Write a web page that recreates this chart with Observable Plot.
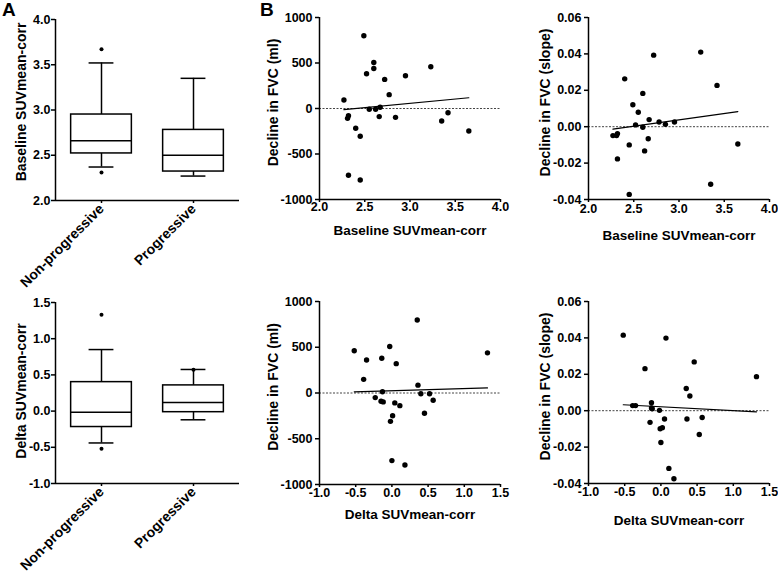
<!DOCTYPE html>
<html><head><meta charset="utf-8">
<script src="https://cdn.jsdelivr.net/npm/d3@7"></script>
<script src="https://cdn.jsdelivr.net/npm/@observablehq/plot@0.6"></script>
<style>
body{margin:0;background:#fff;}
#root{position:relative;width:778px;height:573px;overflow:hidden;font-family:"Liberation Sans",Arial,sans-serif;font-weight:bold;color:#000;}
.panel{position:absolute;}
.letter{position:absolute;font-size:19px;font-weight:bold;line-height:1;}
</style></head><body><div id="root"></div>
<script>
// ---- Panel A: box plot summaries ----
const groups = ["Non-progressive", "Progressive"];
const baseQ1 = [2.52, 2.32];
const baseMedian = [2.66, 2.50];
const baseQ3 = [2.95, 2.78];
const baseLow = [2.37, 2.27];
const baseHigh = [3.52, 3.35];
const baseOutlierGroup = ["Non-progressive", "Non-progressive"];
const baseOutlierValue = [3.67, 2.31];

const deltaQ1 = [-0.22, -0.015];
const deltaMedian = [-0.015, 0.12];
const deltaQ3 = [0.40, 0.355];
const deltaLow = [-0.44, -0.12];
const deltaHigh = [0.85, 0.575];
const deltaOutlierGroup = ["Non-progressive", "Non-progressive", "Progressive"];
const deltaOutlierValue = [1.33, -0.52, 0.57];

// ---- Panel B: scatter data ----
const baselineVsMlX = [2.49,2.60,2.60,2.52,2.72,2.95,3.23,2.77,2.27,2.55,2.62,2.67,2.66,2.84,2.32,2.31,2.40,2.45,3.35,3.42,3.65,2.32,2.45];
const baselineVsMlY = [799,506,440,382,320,360,459,152,93,-9,-9,13,-89,-97,-79,-108,-217,-305,-137,-46,-247,-733,-785];

const baselineVsSlopeX = [2.72,3.24,2.40,3.42,2.60,2.49,2.55,2.67,2.52,2.60,2.78,2.85,2.95,2.27,2.31,2.32,2.45,2.66,2.62,2.32,2.45,3.35,3.65];
const baselineVsSlopeY = [0.0393,0.0410,0.0263,0.0227,0.0183,0.0121,0.0079,0.0039,0.0010,-0.0003,0.0026,0.0013,0.0026,-0.0049,-0.0049,-0.0038,-0.0100,-0.0066,-0.0133,-0.0177,-0.0372,-0.0316,-0.0095];

const deltaVsMlX = [0.35,-0.52,-0.03,-0.35,-0.14,0.06,-0.39,1.32,0.36,-0.13,0.52,0.40,-0.23,-0.15,-0.12,0.57,0.04,0.11,0.01,0.45,-0.02,0.00,0.18];
const deltaVsMlY = [798,461,508,361,380,321,149,439,86,13,-9,-9,-50,-90,-97,-79,-108,-138,-248,-222,-310,-739,-787];

const deltaVsSlopeX = [-0.52,0.07,0.46,-0.22,1.32,0.35,0.40,-0.39,-0.35,-0.13,-0.13,-0.12,-0.02,0.05,0.36,0.57,-0.15,0.02,-0.01,0.53,0.00,0.11,0.18];
const deltaVsSlopeY = [0.0415,0.0399,0.0268,0.0231,0.0187,0.0122,0.0081,0.0028,0.0028,0.0044,0.0015,0.0011,0.0002,-0.0046,-0.0046,-0.0037,-0.0064,-0.0093,-0.0099,-0.0131,-0.0175,-0.0317,-0.0374];

// tick values
const baseTicksBox = [2.0, 2.5, 3.0, 3.5, 4.0];
const deltaTicksBox = [-1.0, -0.5, 0.0, 0.5, 1.0, 1.5];
const mlTicks = [-1000, -500, 0, 500, 1000];
const slopeTicks = [-0.04, -0.02, 0.00, 0.02, 0.04, 0.06];
const baseXTicks = [2.0, 2.5, 3.0, 3.5, 4.0];
const deltaXTicks = [-1.0, -0.5, 0.0, 0.5, 1.0, 1.5];

const root = document.getElementById("root");
const FONT = '"Liberation Sans", Arial, sans-serif';
const baseStyle = {background: "transparent", overflow: "visible", fontFamily: FONT, fontWeight: "bold", fontSize: "12px", color: "#000"};

function place(el, left, top) {
  const d = document.createElement("div");
  d.className = "panel";
  d.style.left = left + "px";
  d.style.top = top + "px";
  d.appendChild(el);
  root.appendChild(d);
}

function boxPanel(o) {
  const rows = groups.map((g, i) => ({g, i: i + 1, q1: o.q1[i], med: o.med[i], q3: o.q3[i], lo: o.lo[i], hi: o.hi[i]}));
  const outs = o.outG.map((g, k) => ({i: groups.indexOf(g) + 1, v: o.outV[k]}));
  const hw = 0.33, cw = 0.135;
  return Plot.plot({
    width: o.width, height: o.height,
    marginLeft: o.ml, marginRight: o.mr, marginTop: o.mt, marginBottom: o.mb,
    style: baseStyle,
    x: {type: "linear", domain: [0.5, 2.5], axis: null},
    y: {domain: o.yDomain, axis: null},
    marks: [
      Plot.axisY({ticks: o.yTicks, tickFormat: d => d.toFixed(1), tickSize: 4, tickPadding: 1, fontSize: 12.5, label: null, strokeWidth: 1.5}),
      Plot.axisX({ticks: [1, 2], tickFormat: i => groups[i - 1], tickRotate: -45, tickSize: 3, tickPadding: 3, fontSize: 14, label: null, strokeWidth: 1.5}),
      Plot.ruleX([0.5], {strokeWidth: 1.5}),
      Plot.ruleY([o.yDomain[0]], {strokeWidth: 1.5}),
      Plot.ruleX(rows, {x: "i", y1: "q3", y2: "hi", strokeWidth: 1.5}),
      Plot.ruleX(rows, {x: "i", y1: "lo", y2: "q1", strokeWidth: 1.5}),
      Plot.ruleY(rows, {y: "hi", x1: d => d.i - cw, x2: d => d.i + cw, strokeWidth: 1.5}),
      Plot.ruleY(rows, {y: "lo", x1: d => d.i - cw, x2: d => d.i + cw, strokeWidth: 1.5}),
      Plot.rect(rows, {x1: d => d.i - hw, x2: d => d.i + hw, y1: "q1", y2: "q3", fill: "white", stroke: "black", strokeWidth: 1.5}),
      Plot.ruleY(rows, {y: "med", x1: d => d.i - hw, x2: d => d.i + hw, strokeWidth: 1.5}),
      Plot.dot(outs, {x: "i", y: "v", r: 2, fill: "black"}),
      Plot.text([o.yLabel], {frameAnchor: "left", rotate: -90, textAnchor: "middle", lineAnchor: "middle", dx: -o.yLabelOffset, dy: o.yLabelDy, fontSize: 14, fontWeight: "bold"})
    ]
  });
}

function scatterPanel(o) {
  const pts = o.xs.map((x, i) => ({x, y: o.ys[i]}));
  return Plot.plot({
    width: o.width, height: o.height,
    marginLeft: o.ml, marginRight: o.mr, marginTop: o.mt, marginBottom: o.mb,
    style: baseStyle,
    x: {domain: o.xDomain, axis: null},
    y: {domain: o.yDomain, axis: null},
    marks: [
      Plot.ruleY([0], {stroke: "#444", strokeWidth: 1, strokeDasharray: "2,1.5"}),
      Plot.axisY({ticks: o.yTicks, tickFormat: o.yFmt, tickSize: 4, tickPadding: 3, fontSize: 12.5, label: null, strokeWidth: 1.5}),
      Plot.axisX({ticks: o.xTicks, tickFormat: d => d.toFixed(1), tickSize: 3, tickPadding: o.xTickPad, fontSize: 12.5, label: null, strokeWidth: 1.5}),
      Plot.ruleX([o.xDomain[0]], {strokeWidth: 1.5}),
      Plot.ruleY([o.yDomain[0]], {strokeWidth: 1.5}),
      Plot.linearRegressionY(pts, {x: "x", y: "y", ci: 0, stroke: "black", strokeWidth: 1.2}),
      Plot.dot(pts, {x: "x", y: "y", r: 2.7, fill: "black"}),
      Plot.text([o.xLabel], {frameAnchor: "bottom", lineAnchor: "middle", dy: o.xLabelOffset, fontSize: 13.5, fontWeight: "bold"}),
      Plot.text([o.yLabel], {frameAnchor: "left", rotate: -90, textAnchor: "middle", lineAnchor: "middle", dx: -o.yLabelOffset, dy: -6, fontSize: 14, fontWeight: "bold"})
    ]
  });
}

// A top
place(boxPanel({width: 250, height: 295, ml: 55, mr: 11, mt: 19, mb: 95,
  q1: baseQ1, med: baseMedian, q3: baseQ3, lo: baseLow, hi: baseHigh,
  outG: baseOutlierGroup, outV: baseOutlierValue,
  yDomain: [2.0, 4.0], yTicks: baseTicksBox, yLabel: "Baseline SUVmean-corr", yLabelOffset: 34, yLabelDy: -8}), 0, 0);
// A bottom
place(boxPanel({width: 250, height: 290, ml: 55, mr: 11, mt: 19, mb: 90,
  q1: deltaQ1, med: deltaMedian, q3: deltaQ3, lo: deltaLow, hi: deltaHigh,
  outG: deltaOutlierGroup, outV: deltaOutlierValue,
  yDomain: [-1.0, 1.5], yTicks: deltaTicksBox, yLabel: "Delta SUVmean-corr", yLabelOffset: 34, yLabelDy: -2}), 0, 283);

const fmtInt = d => String(d);
const fmtSlope = d => d.toFixed(2);

// B top-left
place(scatterPanel({width: 255, height: 260, ml: 69, mr: 5, mt: 17, mb: 61,
  xs: baselineVsMlX, ys: baselineVsMlY, xDomain: [2.0, 4.0], yDomain: [-1000, 1000],
  xTicks: baseXTicks, yTicks: mlTicks, yFmt: fmtInt, xTickPad: 0,
  xLabel: "Baseline SUVmean-corr", yLabel: "Decline in FVC (ml)", xLabelOffset: 31, yLabelOffset: 46}), 250, 0);
// B top-right
place(scatterPanel({width: 273, height: 260, ml: 83, mr: 9, mt: 17, mb: 61,
  xs: baselineVsSlopeX, ys: baselineVsSlopeY, xDomain: [2.0, 4.0], yDomain: [-0.04, 0.06],
  xTicks: baseXTicks, yTicks: slopeTicks, yFmt: fmtSlope, xTickPad: 2,
  xLabel: "Baseline SUVmean-corr", yLabel: "Decline in FVC (slope)", xLabelOffset: 36, yLabelOffset: 43}), 505, 0);
// B bottom-left
place(scatterPanel({width: 255, height: 289, ml: 69, mr: 5, mt: 17, mb: 89,
  xs: deltaVsMlX, ys: deltaVsMlY, xDomain: [-1.0, 1.5], yDomain: [-1000, 1000],
  xTicks: deltaXTicks, yTicks: mlTicks, yFmt: fmtInt, xTickPad: 1,
  xLabel: "Delta SUVmean-corr", yLabel: "Decline in FVC (ml)", xLabelOffset: 30, yLabelOffset: 46}), 250, 284);
// B bottom-right
place(scatterPanel({width: 273, height: 289, ml: 83, mr: 9, mt: 17, mb: 90,
  xs: deltaVsSlopeX, ys: deltaVsSlopeY, xDomain: [-1.0, 1.5], yDomain: [-0.04, 0.06],
  xTicks: deltaXTicks, yTicks: slopeTicks, yFmt: fmtSlope, xTickPad: 1,
  xLabel: "Delta SUVmean-corr", yLabel: "Decline in FVC (slope)", xLabelOffset: 37, yLabelOffset: 43}), 505, 284);

// panel letters
for (const [t, l, tp] of [["A", 2, 0], ["B", 260, 0]]) {
  const s = document.createElement("div");
  s.className = "letter";
  s.textContent = t;
  s.style.left = l + "px";
  s.style.top = tp + "px";
  root.appendChild(s);
}
</script></body></html>
